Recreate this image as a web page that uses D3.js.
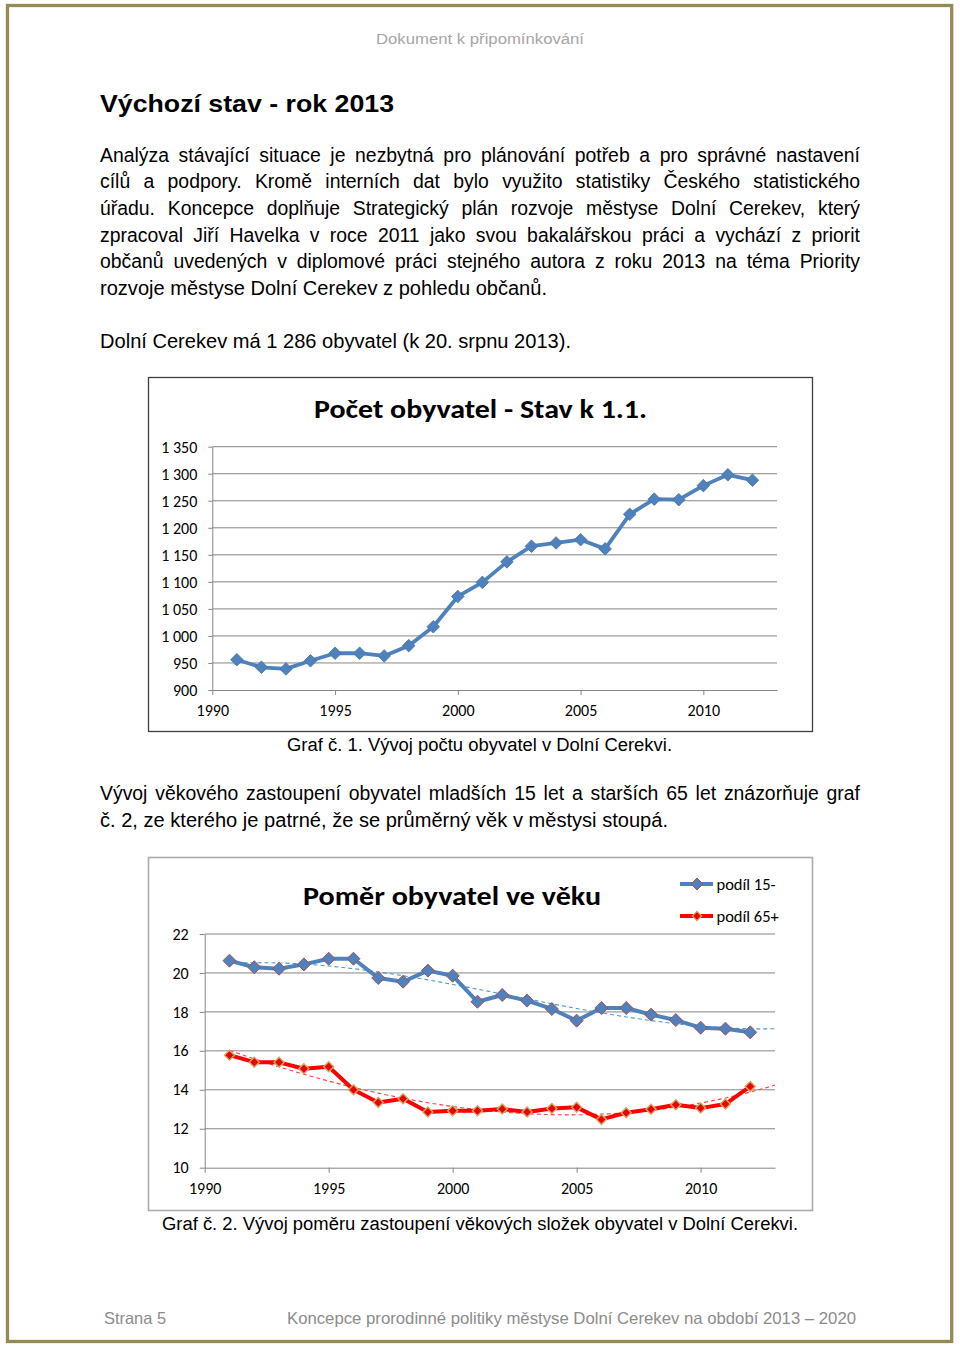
<!DOCTYPE html>
<html><head><meta charset="utf-8">
<script src="https://cdn.jsdelivr.net/npm/d3@7/dist/d3.min.js"></script>
<style>body{margin:0;background:#fff} svg{display:block}</style>
</head><body>
<svg id="page" width="960" height="1346"></svg>
<script>
// ---------------- DATA ----------------
const years = [1991,1992,1993,1994,1995,1996,1997,1998,1999,2000,2001,2002,2003,2004,2005,2006,2007,2008,2009,2010,2011,2012];
const population = [956,942,939,954,968,968,963,982,1017,1073,1099,1137,1166,1172,1178,1161,1225,1253,1252,1278,1298,1288];
const share15 = [20.63,20.29,20.22,20.44,20.73,20.73,19.74,19.55,20.12,19.86,18.52,18.87,18.58,18.15,17.55,18.2,18.2,17.86,17.58,17.19,17.14,16.95];
const share65 = [15.78,15.42,15.41,15.08,15.18,14.0,13.35,13.54,12.86,12.92,12.92,13.01,12.86,13.04,13.1,12.48,12.82,13.0,13.23,13.06,13.27,14.17];
const seriesNames = ["podíl 15-","podíl 65+"];
const popTicks = [900,950,1000,1050,1100,1150,1200,1250,1300,1350];
const popTickLabels = ["900","950","1 000","1 050","1 100","1 150","1 200","1 250","1 300","1 350"];
const shareTicks = [10,12,14,16,18,20,22];
const yearTicks = [1990,1995,2000,2005,2010];
const chart1Title = "Počet obyvatel - Stav k 1.1.";
const chart2Title = "Poměr obyvatel ve věku";
const headerText = "Dokument k připomínkování";
const headingText = "Výchozí stav - rok 2013";
const para1 = [
 "Analýza stávající situace je nezbytná pro plánování potřeb a pro správné nastavení",
 "cílů a podpory. Kromě interních dat bylo využito statistiky Českého statistického",
 "úřadu. Koncepce doplňuje Strategický plán rozvoje městyse Dolní Cerekev, který",
 "zpracoval Jiří Havelka v roce 2011 jako svou bakalářskou práci a vychází z priorit",
 "občanů uvedených v diplomové práci stejného autora z roku 2013 na téma Priority",
 "rozvoje městyse Dolní Cerekev z pohledu občanů."
];
const para1b = "Dolní Cerekev má 1 286 obyvatel (k 20. srpnu 2013).";
const caption1 = "Graf č. 1. Vývoj počtu obyvatel v Dolní Cerekvi.";
const para2 = [
 "Vývoj věkového zastoupení obyvatel mladších 15 let a starších 65 let znázorňuje graf",
 "č. 2, ze kterého je patrné, že se průměrný věk v městysi stoupá."
];
const caption2 = "Graf č. 2. Vývoj poměru zastoupení věkových složek obyvatel v Dolní Cerekvi.";
const footerLeft = "Strana 5";
const footerRight = "Koncepce prorodinné politiky městyse Dolní Cerekev na období 2013 – 2020";

// ---------------- PAGE ----------------
const svg = d3.select("#page");
const BODY = "'Liberation Sans', Arial, sans-serif";
const CH = "Carlito, Lato, 'Open Sans', sans-serif";
const BS = 19.4;

svg.append("rect").attr("x",7.5).attr("y",5.5).attr("width",944.2).attr("height",1336)
  .attr("fill","none").attr("stroke","#948A54").attr("stroke-width",3.3);

function txt(x, y, s, o={}) {
  const t = svg.append("text").attr("x",x).attr("y",y).text(s)
    .attr("font-family", o.family || BODY).attr("font-size", o.size || BS)
    .attr("fill", o.fill || "#000").attr("font-weight", o.weight || "normal");
  if (o.anchor) t.attr("text-anchor", o.anchor);
  if (o.len) t.attr("textLength", o.len).attr("lengthAdjust","spacingAndGlyphs");
  return t;
}
function justify(x, y, s, width, o={}) {
  const words = s.split(" ");
  const widths = words.map(w => {
    const t = txt(0,-100,w,o); const l = t.node().getComputedTextLength(); t.remove(); return l;
  });
  const total = d3.sum(widths);
  const gap = (width - total) / (words.length - 1);
  let cx = x;
  words.forEach((w,i) => { txt(cx, y, w, o); cx += widths[i] + gap; });
}

txt(376, 43.5, headerText, {size:15.5, fill:"#A6A6A6", len:208});
txt(100, 111.5, headingText, {size:24, weight:"bold", len:294});

const lh = 26.7;
para1.forEach((l,i) => {
  const y = 161.5 + i*lh;
  if (i < para1.length-1) justify(100, y, l, 760);
  else txt(100, y, l, {len:447});
});
txt(100, 348, para1b, {len:471});
txt(287, 751, caption1, {size:18, len:385});
justify(100, 800, para2[0], 760);
txt(100, 827, para2[1], {len:568});
txt(162, 1230, caption2, {size:18, len:636});
txt(104, 1324, footerLeft, {size:16.5, fill:"#8C8C8C", len:62});
txt(287, 1324, footerRight, {size:16.5, fill:"#8C8C8C", len:569});

// ---------------- helpers ----------------
function diamond(x, y, r) { return `M${x},${y-r}L${x+r},${y}L${x},${y+r}L${x-r},${y}Z`; }
function polyfit(xs, ys, deg) {
  const n = deg+1;
  const A = Array.from({length:n}, () => new Array(n+1).fill(0));
  for (let r=0;r<n;r++) {
    for (let c=0;c<n;c++) A[r][c] = d3.sum(xs, x => Math.pow(x, r+c));
    A[r][n] = d3.sum(xs.map((x,i)=>Math.pow(x,r)*ys[i]));
  }
  for (let i=0;i<n;i++) {
    let p=i; for (let k=i+1;k<n;k++) if (Math.abs(A[k][i])>Math.abs(A[p][i])) p=k;
    [A[i],A[p]]=[A[p],A[i]];
    for (let k=i+1;k<n;k++){ const f=A[k][i]/A[i][i]; for(let j=i;j<=n;j++) A[k][j]-=f*A[i][j]; }
  }
  const c = new Array(n).fill(0);
  for (let i=n-1;i>=0;i--){ let s=A[i][n]; for(let j=i+1;j<n;j++) s-=A[i][j]*c[j]; c[i]=s/A[i][i]; }
  return x => c.reduce((a,ci,i)=>a+ci*Math.pow(x,i),0);
}
function styleAxis(g, size) {
  g.selectAll("path.domain").attr("stroke","#868686").attr("stroke-width",1);
  g.selectAll(".tick line").attr("stroke","#868686");
  g.selectAll(".tick text").attr("font-family",CH).attr("font-size",size).attr("fill","#000");
}

// ---------------- CHART 1 ----------------
svg.append("rect").attr("x",148.5).attr("y",377.5).attr("width",664).attr("height",354)
  .attr("fill","#fff").attr("stroke","#3f3f3f").attr("stroke-width",1.3);
const x1 = d3.scaleLinear().domain([1990,2013]).range([212.3,777]);
const y1 = d3.scaleLinear().domain([900,1350]).range([690,446.7]);
svg.append("g").selectAll("line").data(popTicks.slice(1)).join("line")
  .attr("x1",x1(1990)).attr("x2",x1(2013)).attr("y1",d=>y1(d)).attr("y2",d=>y1(d))
  .attr("stroke","#868686").attr("stroke-width",1);
const ax1 = svg.append("g").attr("transform",`translate(${x1(1990)},0)`)
  .call(d3.axisLeft(y1).tickValues(popTicks).tickSize(4).tickSizeOuter(0).tickPadding(11)
    .tickFormat((d,i)=>popTickLabels[i]));
styleAxis(ax1, 16);
ax1.selectAll(".tick text").attr("dy","0.35em");
const bx1 = svg.append("g").attr("transform",`translate(0,${y1(900)})`)
  .call(d3.axisBottom(x1).tickValues(yearTicks).tickSize(5).tickSizeOuter(0).tickPadding(10).tickFormat(d3.format("d")));
styleAxis(bx1, 16);
txt(314, 418, chart1Title, {family:CH, size:27, weight:"bold", len:333});
const pop = years.map((y,i)=>({year:y, v:population[i]}));
svg.append("path").datum(pop)
  .attr("d", d3.line().x(d=>x1(d.year)).y(d=>y1(d.v)))
  .attr("fill","none").attr("stroke","#4F81BD").attr("stroke-width",3.8).attr("stroke-linejoin","round");
svg.append("g").selectAll("path").data(pop).join("path")
  .attr("d", d=>diamond(x1(d.year), y1(d.v), 6.3)).attr("fill","#4F81BD").attr("stroke","#4573a8").attr("stroke-width",0.8);

// ---------------- CHART 2 ----------------
svg.append("rect").attr("x",148.5).attr("y",857.5).attr("width",664).attr("height",353)
  .attr("fill","#fff").attr("stroke","#ABABAB").attr("stroke-width",1.6);
const x2 = d3.scaleLinear().domain([1990,2013]).range([204.7,775]);
const y2 = d3.scaleLinear().domain([10,22]).range([1167.7,934]);
svg.append("g").selectAll("line").data(shareTicks.slice(1)).join("line")
  .attr("x1",x2(1990)).attr("x2",x2(2013)).attr("y1",d=>y2(d)).attr("y2",d=>y2(d))
  .attr("stroke","#868686").attr("stroke-width",1);
const ax2 = svg.append("g").attr("transform",`translate(${x2(1990)},0)`)
  .call(d3.axisLeft(y2).tickValues(shareTicks).tickSize(5).tickSizeOuter(0).tickPadding(11));
styleAxis(ax2, 16);
const bx2 = svg.append("g").attr("transform",`translate(0,${y2(10)})`)
  .call(d3.axisBottom(x2).tickValues(yearTicks).tickSize(5).tickSizeOuter(0).tickPadding(10).tickFormat(d3.format("d")));
styleAxis(bx2, 16);
txt(303, 905, chart2Title, {family:CH, size:27, weight:"bold", len:298});

const idx = years.map((y,i)=>i+1);
const f15 = polyfit(idx, share15, 3);
const f65 = polyfit(idx, share65, 3);
const trendX = d3.range(1, 23.01, 0.25);
const trendLine = f => d3.line().x(k=>x2(years[0]+k-1)).y(k=>y2(f(k)));
svg.append("path").datum(trendX).attr("d", trendLine(f15))
  .attr("fill","none").attr("stroke","#4A9BC8").attr("stroke-width",1.1).attr("stroke-dasharray","4,3");
svg.append("path").datum(trendX).attr("d", trendLine(f65))
  .attr("fill","none").attr("stroke","#FF4040").attr("stroke-width",1.1).attr("stroke-dasharray","4,3");

const s15 = years.map((y,i)=>({year:y, v:share15[i]}));
const s65 = years.map((y,i)=>({year:y, v:share65[i]}));
const l2 = d3.line().x(d=>x2(d.year)).y(d=>y2(d.v));
svg.append("path").datum(s15).attr("d", l2).attr("fill","none").attr("stroke","#4F81BD")
  .attr("stroke-width",4).attr("stroke-linejoin","round");
svg.append("g").selectAll("path").data(s15).join("path")
  .attr("d", d=>diamond(x2(d.year), y2(d.v), 6.5)).attr("fill","#4F81BD").attr("stroke","#A0525A").attr("stroke-width",1);
svg.append("path").datum(s65).attr("d", l2).attr("fill","none").attr("stroke","#FF0000")
  .attr("stroke-width",4).attr("stroke-linejoin","round");
svg.append("g").selectAll("path").data(s65).join("path")
  .attr("d", d=>diamond(x2(d.year), y2(d.v), 5)).attr("fill","#E8000A").attr("stroke","#D4A85A").attr("stroke-width",1.4);

// legend
const legY = [884, 916];
const legColors = ["#4F81BD","#FF0000"];
seriesNames.forEach((n,i) => {
  svg.append("line").attr("x1",680).attr("x2",713).attr("y1",legY[i]).attr("y2",legY[i])
    .attr("stroke",legColors[i]).attr("stroke-width",4);
  if (i===0) svg.append("path").attr("d",diamond(697,legY[i],6)).attr("fill","#4F81BD").attr("stroke","#A0525A");
  else svg.append("path").attr("d",diamond(697,legY[i],4.6)).attr("fill","#E8000A").attr("stroke","#D4A85A").attr("stroke-width",1.3);
  txt(716.5, legY[i]+5.5, n, {family:CH, size:16.5});
});
</script>
</body></html>
